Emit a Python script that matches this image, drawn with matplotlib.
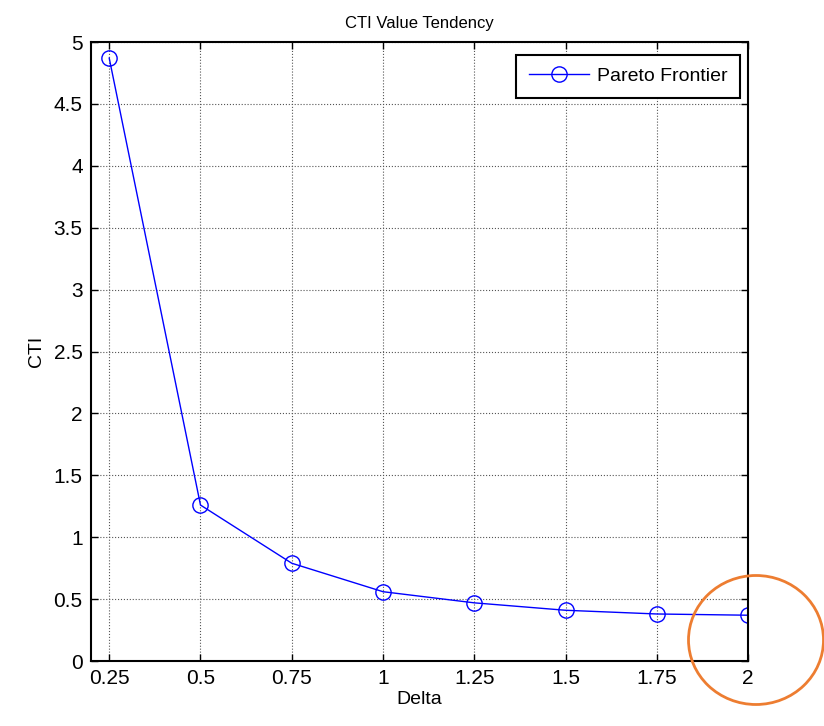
import matplotlib.pyplot as plt
from matplotlib.patches import Ellipse

delta = [0.25, 0.5, 0.75, 1.0, 1.25, 1.5, 1.75, 2.0]
cti = [4.87, 1.26, 0.79, 0.56, 0.47, 0.41, 0.38, 0.37]

xticks = [0.25, 0.5, 0.75, 1, 1.25, 1.5, 1.75, 2]
xticklabels = ['0.25', '0.5', '0.75', '1', '1.25', '1.5', '1.75', '2']
yticks = [0, 0.5, 1, 1.5, 2, 2.5, 3, 3.5, 4, 4.5, 5]
yticklabels = ['0', '0.5', '1', '1.5', '2', '2.5', '3', '3.5', '4', '4.5', '5']

plt.rcParams['font.family'] = ['Liberation Sans', 'DejaVu Sans']

fig = plt.figure(figsize=(8.24, 7.26), dpi=100)
ax = fig.add_axes([0.1104, 0.0895, 0.7974, 0.8526])

ax.plot(delta, cti, color='blue', lw=1, marker='o', markersize=11,
        markerfacecolor='none', markeredgecolor='blue', markeredgewidth=1,
        label='Pareto Frontier')

ax.set_xlim(0.2, 2)
ax.set_ylim(0, 5)
ax.set_xticks(xticks)
ax.set_xticklabels(xticklabels)
ax.set_yticks(yticks)
ax.set_yticklabels(yticklabels)
ax.tick_params(direction='in', length=5, width=1, labelsize=15,
               top=True, right=True, pad=6)
ax.grid(True, linestyle=':', color='#555555', lw=0.8)
for s in ax.spines.values():
    s.set_linewidth(1.5)

ax.set_xlabel('Delta', fontsize=14, labelpad=2)
ax.set_ylabel('CTI', fontsize=14, labelpad=6)
ax.set_title('CTI Value Tendency', fontsize=12, pad=10)

leg = ax.legend(loc='upper right', fontsize=14, fancybox=False,
                framealpha=1, edgecolor='black', handlelength=3.1,
                handletextpad=0.4, borderpad=0.65, borderaxespad=0,
                bbox_to_anchor=(0.988, 0.979))
leg.get_frame().set_linewidth(1.5)

ell = Ellipse((756 / 824, 1 - 640 / 726), 135 / 824, 129 / 726,
              transform=fig.transFigure, fill=False, edgecolor='#ED7D31',
              lw=2, clip_on=False)
fig.patches.append(ell)

fig.savefig('out.png', dpi=100)
